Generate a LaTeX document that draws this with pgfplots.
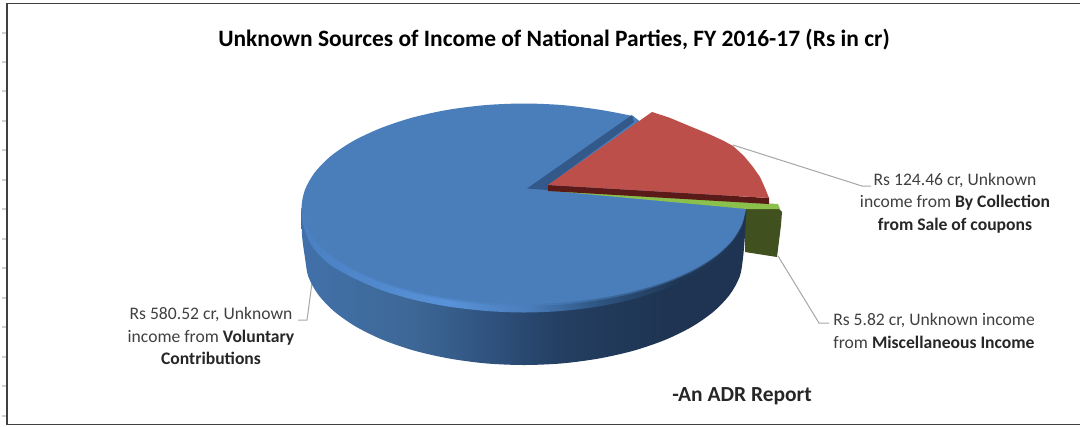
\documentclass[border=0pt]{standalone}
\usepackage{pgfplots}
\pgfplotsset{compat=1.18}
\usepackage{fontspec}
\setmainfont{Carlito}

\definecolor{faceblue}{HTML}{4A7EBB}
\definecolor{wedgeblue}{HTML}{33598A}
\definecolor{redtop}{HTML}{BD4F4B}
\definecolor{redside}{HTML}{5A1A18}
\definecolor{greentop}{HTML}{8CC04C}
\definecolor{greenside}{HTML}{41501F}
\definecolor{leader}{HTML}{A6A6A6}
\definecolor{labeltext}{HTML}{404040}
\definecolor{frameline}{HTML}{404040}
\definecolor{sideA}{HTML}{4170A8}
\definecolor{sideB}{HTML}{3D6796}
\definecolor{sideC}{HTML}{2E507C}
\definecolor{sideD}{HTML}{243F62}
\definecolor{sideE}{HTML}{1E3452}
\definecolor{rimA}{HTML}{4A80C2}
\definecolor{rimB}{HTML}{5892D8}
\definecolor{rimC}{HTML}{4A7DBB}
\definecolor{rimD}{HTML}{2E5480}
\definecolor{rimE}{HTML}{1F3654}

% side wall of the pie, light on the left and dark on the right
\pgfdeclarehorizontalshading{pieside}{100bp}{
    color(0bp)=(sideA);
    color(26.5bp)=(sideA);
    color(37.5bp)=(sideB);
    color(47bp)=(sideC);
    color(54bp)=(sideD);
    color(66bp)=(sideE);
    color(100bp)=(sideE)}
% bevel along the front of the top face
\pgfdeclarehorizontalshading{pierim}{100bp}{
    color(0bp)=(rimA);
    color(25bp)=(rimA);
    color(41.5bp)=(rimB);
    color(50.5bp)=(rimC);
    color(58.5bp)=(rimD);
    color(67.5bp)=(rimE);
    color(100bp)=(rimE)}

\begin{document}
\begin{tikzpicture}
\begin{axis}[
        scale only axis,
        width=810pt,
        height=319.5pt,
        xmin=0, xmax=1080,
        ymin=0, ymax=426,
        y dir=reverse,
        hide axis,
        unbounded coords=jump,
    ]
    \coordinate (pagebl) at (axis cs:0,426);
    \coordinate (pagetr) at (axis cs:1080,0);

    % --- sheet frame and the row marks on the left ---
    \addplot[frameline, line width=1pt] coordinates {(1080,3.5)(7,3.5)(7,424.5)(1080,424.5)};
    \addplot[black!18, line width=0.8pt] coordinates {
        (2,33)(6,33)(2,nan)(2,62)(6,62)(2,nan)(2,91)(6,91)(2,nan)(2,121)(6,121)(2,nan)
        (2,150)(6,150)(2,nan)(2,180)(6,180)(2,nan)(2,209)(6,209)(2,nan)(2,239)(6,239)(2,nan)
        (2,268)(6,268)(2,nan)(2,298)(6,298)(2,nan)(2,327)(6,327)(2,nan)(2,357)(6,357)(2,nan)
        (2,386)(6,386)(2,nan)(2,416)(6,416)
    };

    % --- leader lines ---
    \addplot[leader, line width=0.75pt] coordinates {(733,145)(862,186)(871,186)};
    \addplot[leader, line width=0.75pt] coordinates {(778,256)(819,323)(829,323)};
    \addplot[leader, line width=0.75pt] coordinates {(312,283)(307,320)(298,320)};

    % --- Miscellaneous Income slice ---
    \addplot[fill=greenside, draw=none] coordinates {
        (745,207)(779,209)(782,212)(781,225)(777,257)(745,252)
    };

    % --- side wall of the big slice ---
    \addplot[shading=pieside, draw=none, smooth] coordinates {
        (301.5,208)(302,235)(305,258)(308.3,276.6)(318.2,294.6)(334.3,311.5)(356.2,326.8)
        (383.2,340)(414.5,350.7)(449.1,358.5)(486,363.4)(524,365)(562,363.4)(598.9,358.5)
        (633.5,350.7)(664.8,340)(691.8,326.8)(713.7,311.5)(729.8,294.6)(739.7,276.6)
        (743,258)(745,235)(746.5,208)
    };

    % --- bevel: outer band and two softer bands ---
    \addplot[shading=pierim, draw=none, smooth] coordinates {
        (301.5,208)(303.5,226.1)(312,246)(329,264)(353.6,278)(381,290)
        (412.7,299.5)(447.9,306.5)(485.4,310.9)(524,312.5)(562.6,310.9)(600.1,306.2)
        (635.3,298.5)(667,288)(694.4,275.2)(716.7,260.3)(733.1,243.7)(743.1,226.1)(746.5,208)
    };
    \addplot[shading=pierim, draw=none, smooth, opacity=0.6] coordinates {
        (301.5,208)(305,225.4)(315.5,242.2)(332,258)(354,272.3)(381.5,284.6)
        (413,294.6)(448,302)(485.5,306.5)(524,308)(562.5,306.5)(600,302)
        (635,294.6)(666.5,284.6)(694,272.3)(716,258)(732.5,242.2)(742.5,225.4)(746,208)
    };
    \addplot[fill=faceblue, draw=none, smooth, opacity=0.5] coordinates {
        (301.5,208)(305.6,225)(315.8,241.4)(332.2,257)(354.3,271)(381.7,283)
        (413.2,292.8)(448.2,300.1)(485.5,304.5)(524,306)(562.5,304.5)(599.8,300.1)
        (634.8,292.8)(666.3,283)(693.7,271)(715.7,257)(732.1,241.4)(742.1,225)(746,208)
    };

    % --- top face of the big slice ---
    \addplot[fill=faceblue, draw=none, smooth] coordinates {
        (633,116)(600.1,109.8)(562.6,105.1)(524,103.5)(485.4,105.1)(447.9,109.8)(412.7,117.5)
        (381,128)(353.6,140.8)(331.3,155.7)(314.9,172.3)(304.9,189.9)(301.6,208)
        (306.4,224.7)(316.3,240.8)(332.6,256)(354.7,269.7)(381.9,281.5)(413.5,291.1)
        (448.4,298.2)(485.6,302.5)(524,304)(562.4,302.5)(599.6,298.2)(634.5,291.1)
        (666.1,281.5)(693.3,269.7)(715.4,256)(731.7,240.8)(741.6,224.7)(746,209)
    };
    \addplot[fill=faceblue, draw=faceblue, line width=0.4pt] coordinates {
        (633,116)(527,188)(547,191)(746,209)
    };

    % --- cut side of the big slice, seen in the gap ---
    \addplot[fill=wedgeblue, draw=none] coordinates {
        (527,188.5)(632,115)(634,122)(548,185)(548,190)
    };

    % --- green top, red side and red top ---
    \addplot[fill=greentop, draw=none] coordinates {
        (548,190.5)(778,204)(780,209)(747,209)
    };
    \addplot[fill=redside, draw=none] coordinates {
        (548,185)(769,198)(769,204)(548,191)
    };
    \addplot[fill=redtop, draw=none] coordinates {
        (548,185)(652,112)(669,117.5)(687,125)(710,134.5)(724,141)(733,146)(744,156)
        (753,167)(760,177)(765,188)(769,198)
    };

    % --- texts ---
    \node[text=black, font=\fontsize{17.6}{21}\selectfont\bfseries] at (axis cs:554,40)
        {Unknown Sources of Income of National Parties, FY 2016-17 (Rs in cr)};
    \node[text=labeltext, font=\fontsize{13.2}{16.8}\selectfont, align=center] at (axis cs:955,203)
        {Rs 124.46 cr, Unknown\\income from \textcolor{black!85}{\textbf{By Collection}}\\\textcolor{black!85}{\textbf{from Sale of coupons}}};
    \node[text=labeltext, font=\fontsize{13.2}{16.8}\selectfont, align=center] at (axis cs:934,331)
        {Rs 5.82 cr, Unknown income\\from \textcolor{black!85}{\textbf{Miscellaneous Income}}};
    \node[text=labeltext, font=\fontsize{13.2}{16.8}\selectfont, align=center] at (axis cs:211,336)
        {Rs 580.52 cr, Unknown\\income from \textcolor{black!85}{\textbf{Voluntary}}\\\textcolor{black!85}{\textbf{Contributions}}};
    \node[text=black!85, font=\fontsize{16.1}{19}\selectfont\bfseries] at (axis cs:742,396)
        {-An ADR Report};
\end{axis}
\pgfresetboundingbox
\path[use as bounding box] (pagebl) rectangle (pagetr);
\end{tikzpicture}
\end{document}
